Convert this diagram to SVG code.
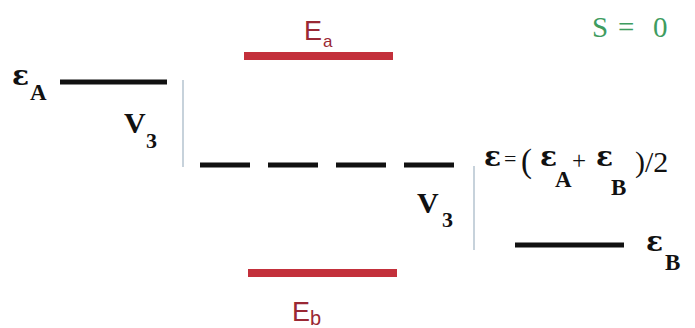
<svg xmlns="http://www.w3.org/2000/svg" width="695" height="328" viewBox="0 0 695 328">
<style>
.lvl{stroke:#111;stroke-width:5;fill:none}
.red{stroke:#c3303b;stroke-width:8;fill:none}
.cpl{stroke:#b4c3cf;stroke-width:1.5;fill:none}
.sym{font-family:"Liberation Serif","Times New Roman",serif;font-weight:bold;fill:#111}
.eps{font-family:"DejaVu Serif",serif;font-weight:bold;font-size:28px;fill:#111}
.nrm{font-weight:normal}
.sub{font-size:23px}
.rl{font-family:"Liberation Sans",Arial,sans-serif;fill:#9a2834}
.grn{font-family:"Liberation Serif","Times New Roman",serif;font-size:29px;fill:#3e9c60}
</style>
<rect width="695" height="328" fill="#ffffff"/>
<g id="connectors">
<line class="cpl" x1="183" y1="80" x2="183" y2="167"/>
<line class="cpl" x1="474" y1="166" x2="474" y2="250"/>
</g>
<g id="levelA">
<line class="lvl" x1="60" y1="82" x2="167" y2="82"/>
<text class="eps" x="12" y="85">ε</text>
<text class="sym sub" x="30" y="100">A</text>
</g>
<g id="levelEa">
<line class="red" x1="244" y1="56" x2="393" y2="56"/>
<text class="rl" x="304" y="40" style="font-size:27px">E</text>
<text class="rl" x="323" y="47" style="font-size:17px">a</text>
</g>
<g id="levelMid">
<line class="lvl" x1="200" y1="165" x2="457" y2="165" stroke-dasharray="50 18"/>
<text class="eps" x="484" y="166">ε</text>
<text class="sym nrm" x="504" y="166" style="font-size:22px">=</text>
<text class="sym nrm" x="521" y="172" style="font-size:33px">(</text>
<text class="eps" x="540" y="166">ε</text>
<text class="sym sub" x="555" y="187">A</text>
<text class="sym nrm" x="572" y="169" style="font-size:25px">+</text>
<text class="eps" x="596" y="166">ε</text>
<text class="sym sub" x="611" y="195">B</text>
<text class="sym nrm" x="635" y="172" style="font-size:30px">)/2</text>
</g>
<g id="levelB">
<line class="lvl" x1="515" y1="245" x2="624" y2="245"/>
<text class="eps" x="646" y="251">ε</text>
<text class="sym sub" x="665" y="270">B</text>
</g>
<g id="levelEb">
<line class="red" x1="248" y1="273" x2="397" y2="273"/>
<text class="rl" x="292" y="321" style="font-size:27px">E</text>
<text class="rl" x="310" y="325" style="font-size:20px">b</text>
</g>
<g id="coupling1">
<text class="sym" x="124" y="133" style="font-size:30px">V</text>
<text class="sym" x="146" y="148" style="font-size:22px">3</text>
</g>
<g id="coupling2">
<text class="sym" x="417" y="213" style="font-size:30px">V</text>
<text class="sym" x="442" y="227" style="font-size:22px">3</text>
</g>
<g id="spin">
<text class="grn" x="592" y="37">S</text>
<text class="grn" x="618" y="37">=</text>
<text class="grn" x="653" y="37">0</text>
</g>
</svg>
